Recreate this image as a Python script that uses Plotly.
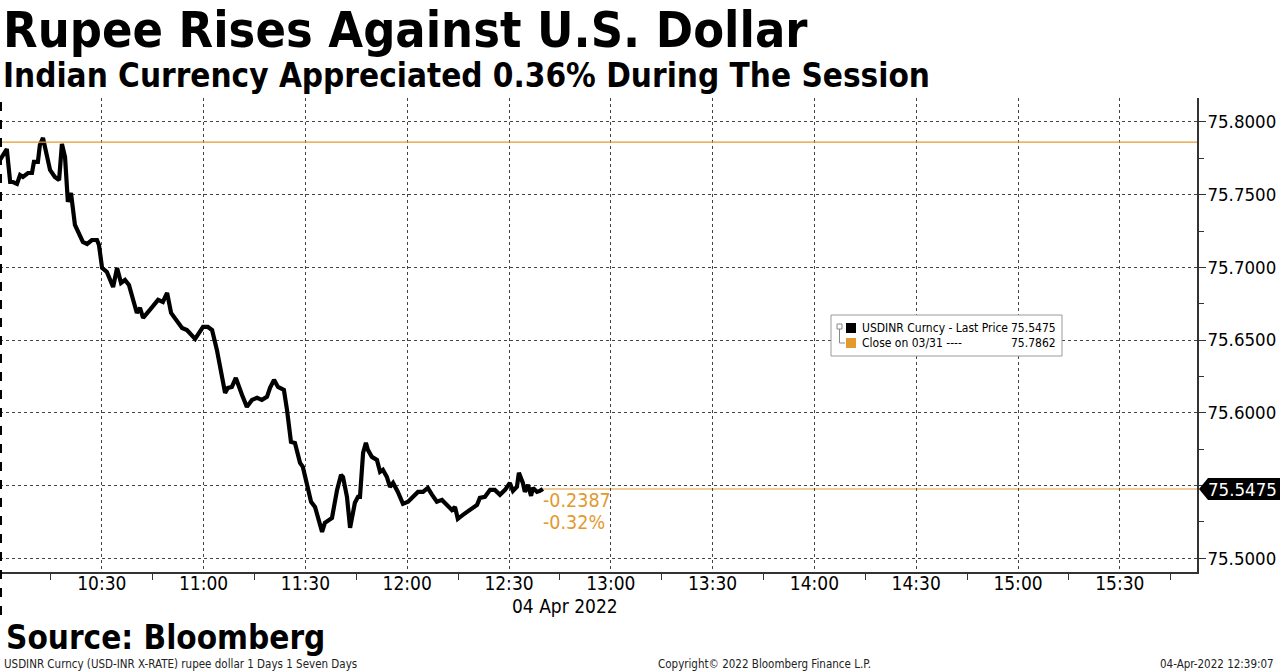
import plotly.graph_objects as go

# USDINR intraday, 04 Apr 2022
DAY = "2022-04-04 "
times = [
    "10:00:00", "10:02:00", "10:03:00", "10:03:50", "10:05:00", "10:05:55", "10:06:45",
    "10:08:15", "10:09:25", "10:10:00", "10:11:10", "10:11:45", "10:12:40", "10:13:50",
    "10:14:45", "10:16:10", "10:17:25", "10:18:15", "10:19:10", "10:20:00", "10:20:55",
    "10:22:05", "10:24:25", "10:25:40", "10:27:05", "10:28:35", "10:29:10", "10:30:05",
    "10:31:30", "10:33:20", "10:34:30", "10:35:40", "10:36:50", "10:38:00", "10:40:20",
    "10:41:15", "10:42:10", "10:44:10", "10:46:35", "10:48:00", "10:49:15", "10:50:25",
    "10:51:35", "10:53:40", "10:55:05", "10:56:00", "10:57:30", "10:59:50", "11:01:15",
    "11:02:30", "11:03:55", "11:06:20", "11:07:10", "11:08:20", "11:09:30", "11:11:20",
    "11:12:45", "11:14:15", "11:15:45", "11:17:10", "11:18:40", "11:19:35", "11:20:45",
    "11:21:55", "11:23:40", "11:24:35", "11:25:45", "11:26:55", "11:28:25", "11:29:15",
    "11:30:30", "11:31:40", "11:32:50", "11:33:40", "11:34:55", "11:35:45", "11:37:50",
    "11:39:20", "11:40:30", "11:41:05", "11:42:15", "11:43:10", "11:44:35", "11:45:30",
    "11:46:05", "11:47:00", "11:47:50", "11:48:25", "11:49:35", "11:51:05", "11:52:00",
    "11:52:50", "11:54:00", "11:54:55", "11:55:50", "11:57:15", "11:58:45", "12:00:15",
    "12:01:40", "12:03:10", "12:04:40", "12:06:05", "12:07:20", "12:08:45", "12:10:15",
    "12:11:45", "12:13:10", "12:14:05", "12:14:55", "12:16:25", "12:18:30", "12:20:35",
    "12:21:25", "12:22:55", "12:24:25", "12:25:50", "12:27:20", "12:28:50", "12:30:15",
    "12:31:10", "12:32:20", "12:32:55", "12:34:05", "12:34:40", "12:35:35", "12:36:30",
    "12:37:05", "12:38:15", "12:39:05", "12:40:00",
]
prices = [
    75.7739, 75.7814, 75.7587, 75.7587, 75.7574, 75.7635, 75.7622,
    75.7649, 75.7649, 75.7725, 75.7725, 75.7842, 75.7890, 75.7773,
    75.7670, 75.7622, 75.7601, 75.7849, 75.7759, 75.7450, 75.7512,
    75.7292, 75.7175, 75.7161, 75.7188, 75.7188, 75.7154, 75.6996,
    75.6968, 75.6865, 75.6996, 75.6893, 75.6913, 75.6879, 75.6686,
    75.6721, 75.6652, 75.6707, 75.6776, 75.6762, 75.6824, 75.6686,
    75.6652, 75.6583, 75.6569, 75.6549, 75.6508, 75.6590, 75.6590,
    75.6569, 75.6432, 75.6136, 75.6171, 75.6177, 75.6239, 75.6122,
    75.6040, 75.6088, 75.6102, 75.6088, 75.6109, 75.6171, 75.6226,
    75.6177, 75.6157, 75.6019, 75.5799, 75.5792, 75.5655, 75.5627,
    75.5517, 75.5387, 75.5352, 75.5283, 75.5180, 75.5242, 75.5276,
    75.5469, 75.5572, 75.5558, 75.5421, 75.5208, 75.5380, 75.5421,
    75.5421, 75.5724, 75.5792, 75.5744, 75.5696, 75.5675, 75.5593,
    75.5607, 75.5558, 75.5490, 75.5517, 75.5455, 75.5373, 75.5387,
    75.5421, 75.5455, 75.5455, 75.5483, 75.5435, 75.5387, 75.5400,
    75.5366, 75.5331, 75.5352, 75.5270, 75.5297, 75.5331, 75.5366,
    75.5414, 75.5421, 75.5469, 75.5469, 75.5435, 75.5469, 75.5517,
    75.5462, 75.5490, 75.5586, 75.5517, 75.5455, 75.5503, 75.5428,
    75.5483, 75.5455, 75.5462, 75.5475,
]
prev_close = 75.7862
last_price = 75.5475
net_change = "-0.2387"
pct_change = "-0.32%"
ytick_vals = [75.50, 75.55, 75.60, 75.65, 75.70, 75.75, 75.80]
ytick_text = ["75.5000", "", "75.6000", "75.6500", "75.7000", "75.7500", "75.8000"]
x_start, x_end = DAY + "10:00:00", DAY + "15:52:45"

ORANGE = "#E29A2E"
FONT = "DejaVu Sans Condensed, DejaVu Sans"
TITLE_FONT = "DejaVu Sans Condensed, DejaVu Sans"

# pixel helpers (plot area: x 0..1197, y 98..572)
W_PLOT, T, B = 1197, 98, 572
def px(x): return x / W_PLOT
def py(y): return (B - y) / (B - T)

ts = [DAY + t for t in times]
fig = go.Figure(go.Scatter(x=ts, y=prices, mode="lines",
                           line=dict(color="black", width=4.2), hoverinfo="skip"))

shapes = [
    dict(type="line", xref="paper", yref="y", x0=0, x1=1, y0=prev_close, y1=prev_close,
         line=dict(color=ORANGE, width=1.2), layer="above"),
    dict(type="line", xref="x", yref="y", x0=ts[-1], x1=x_end, y0=last_price, y1=last_price,
         line=dict(color=ORANGE, width=1.2), layer="below"),
    # day separator
    dict(type="line", xref="paper", yref="paper", x0=px(1), x1=px(1), y0=py(615), y1=1,
         line=dict(color="black", width=2, dash="dash")),
    # last price tag
    dict(type="path", xref="paper", yref="paper",
         path=f"M {px(1199)} {py(489)} L {px(1208)} {py(478)} L {px(1280)} {py(478)} "
              f"L {px(1280)} {py(500)} L {px(1208)} {py(500)} Z",
         fillcolor="black", line=dict(width=0), layer="above"),
    # legend box
    dict(type="rect", xref="paper", yref="paper", x0=px(831), x1=px(1062), y0=py(356), y1=py(315),
         fillcolor="white", line=dict(color="#9a9a9a", width=1), layer="above"),
    dict(type="rect", xref="paper", yref="paper", x0=px(846), x1=px(856), y0=py(333), y1=py(323),
         fillcolor="black", line=dict(width=0), layer="above"),
    dict(type="rect", xref="paper", yref="paper", x0=px(846), x1=px(856), y0=py(348), y1=py(338),
         fillcolor=ORANGE, line=dict(width=0), layer="above"),
    dict(type="rect", xref="paper", yref="paper", x0=px(837), x1=px(842), y0=py(329), y1=py(324),
         fillcolor="white", line=dict(color="#888", width=1), layer="above"),
    dict(type="path", xref="paper", yref="paper",
         path=f"M {px(839.5)} {py(329)} L {px(839.5)} {py(343)} L {px(845)} {py(343)}",
         line=dict(color="#888", width=1), layer="above"),
]

ann = [
    dict(text="<b>Rupee Rises Against U.S. Dollar</b>", x=px(1), y=py(30),
         font=dict(size=50, family=TITLE_FONT, color="black")),
    dict(text="<b>Indian Currency Appreciated 0.36% During The Session</b>", x=px(1), y=py(75),
         font=dict(size=33, family=TITLE_FONT, color="black")),
    dict(text="<b>Source: Bloomberg</b>", x=px(4), y=py(637),
         font=dict(size=33, family=TITLE_FONT, color="black")),
    dict(text="USDINR Curncy (USD-INR X-RATE) rupee dollar 1 Days 1 Seven Days", x=px(2), y=py(664),
         font=dict(size=11.5, family=FONT, color="#222")),
    dict(text="Copyright© 2022 Bloomberg Finance L.P.", x=px(656), y=py(664),
         font=dict(size=11.5, family=FONT, color="#222")),
    dict(text="04-Apr-2022 12:39:07", x=px(1276), y=py(664), xanchor="right",
         font=dict(size=11.5, family=FONT, color="#222")),
    dict(text="04 Apr 2022", x=px(510), y=py(606),
         font=dict(size=19, family=FONT, color="black")),
    dict(text=f"{last_price:.4f}", x=px(1206), y=py(489),
         font=dict(size=18.5, family=FONT, color="white")),
    dict(text="USDINR Curncy - Last Price", x=px(860), y=py(328),
         font=dict(size=12, family=FONT, color="black")),
    dict(text=f"{last_price:.4f}", x=px(1058), y=py(328), xanchor="right",
         font=dict(size=12, family=FONT, color="black")),
    dict(text="Close on 03/31 ----", x=px(860), y=py(343),
         font=dict(size=12, family=FONT, color="black")),
    dict(text=f"{prev_close:.4f}", x=px(1058), y=py(343), xanchor="right",
         font=dict(size=12, family=FONT, color="black")),
    dict(text=net_change, xref="x", yref="paper", x=ts[-1], y=py(500), xshift=-2,
         font=dict(size=19.5, family=FONT, color=ORANGE)),
    dict(text=pct_change, xref="x", yref="paper", x=ts[-1], y=py(522), xshift=-2,
         font=dict(size=19.5, family=FONT, color=ORANGE)),
]
for a in ann:
    a.setdefault("xref", "paper")
    a.setdefault("yref", "paper")
    a.setdefault("xanchor", "left")
    a.setdefault("yanchor", "middle")
    a["showarrow"] = False

fig.update_layout(
    width=1280, height=672,
    margin=dict(l=0, r=83, t=98, b=100),
    paper_bgcolor="white", plot_bgcolor="white",
    showlegend=False,
    shapes=shapes, annotations=ann,
    xaxis=dict(
        type="date", range=[x_start, x_end],
        dtick=30 * 60 * 1000, tick0=DAY + "10:00:00", tickformat="%H:%M",
        ticks="", showline=True, linecolor="#333", linewidth=1.5,
        showgrid=True, gridcolor="#444", griddash="dot", gridwidth=1,
        minor=dict(dtick=15 * 60 * 1000, tick0=DAY + "10:00:00", ticks="outside",
                   ticklen=6, tickcolor="#333", showgrid=False),
        tickfont=dict(size=19, family=FONT, color="black"),
        ticklabelstandoff=-7,
        zeroline=False, fixedrange=True,
    ),
    yaxis=dict(
        side="right", range=[75.4904, 75.8165],
        tickvals=ytick_vals, ticktext=ytick_text,
        ticks="outside", ticklen=7, tickcolor="#333",
        showline=True, linecolor="#333", linewidth=1.5,
        showgrid=True, gridcolor="#444", griddash="dot", gridwidth=1,
        minor=dict(dtick=0.025, ticks="outside", ticklen=5, tickcolor="#333", showgrid=False),
        tickfont=dict(size=18.5, family=FONT, color="black"),
        ticklabelstandoff=-2,
        zeroline=False, fixedrange=True,
    ),
)

# the page has an 8px body margin by default; drop it so the figure fills the window
fig.write_html("out.html", config={"displayModeBar": False},
               post_script="document.body.style.margin='0';")
